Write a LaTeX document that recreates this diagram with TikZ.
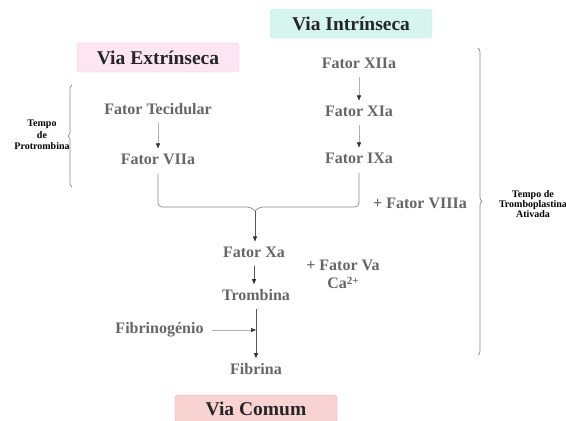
\documentclass[tikz,border=0pt]{standalone}
\usepackage{fontspec}
\setmainfont{Liberation Serif}
\newfontfamily\serifmain{Liberation Serif}
\usetikzlibrary{decorations.pathreplacing,arrows.meta}
\definecolor{facgray}{HTML}{666666}
\definecolor{viadark}{HTML}{262626}
\definecolor{tealbg}{HTML}{D6F5EF}
\definecolor{tealborder}{HTML}{C4EDE5}
\definecolor{pinkbg}{HTML}{FDE6F1}
\definecolor{pinkborder}{HTML}{F3C6DC}
\definecolor{redbg}{HTML}{F9D2D2}
\definecolor{redborder}{HTML}{E8A9A9}
\definecolor{lightline}{HTML}{B0B0B0}
\definecolor{darkline}{HTML}{555555}
\definecolor{bracegray}{HTML}{8A8A8A}
\definecolor{tipcol}{HTML}{333333}
\tikzset{
  fac/.style={font=\serifmain\bfseries\fontsize{16}{19}\selectfont, text=facgray, inner sep=4pt},
  via/.style={font=\serifmain\bfseries\fontsize{19.5}{23}\selectfont, text=viadark, rounded corners=3pt, minimum width=162pt, minimum height=29pt, inner sep=0pt},
  lbl/.style={font=\serifmain\bfseries\fontsize{10}{11.5}\selectfont, align=center, text=black},
  lightarrow/.style={draw=lightline, line width=0.5pt, -{Triangle[length=5pt,width=4pt,color=tipcol]}, shorten <=4pt, shorten >=1pt},
  darkarrow/.style={draw=darkline, line width=0.7pt, -{Triangle[length=5pt,width=4pt,color=tipcol]}, shorten <=4pt, shorten >=1pt},
  bracket/.style={draw=bracegray, line width=0.7pt},
  curly/.style={draw=bracegray, line width=0.7pt, decorate, decoration={brace, amplitude=4pt}}
}
\begin{document}
\begin{tikzpicture}[x=1pt,y=-1pt]
\useasboundingbox[fill=white] (0,0) rectangle (566,421);
% titles
\node[via, fill=tealbg, draw=tealborder] (vi) at (351,23.5) {Via Intrínseca};
\node[via, fill=pinkbg, draw=pinkborder] (ve) at (158,57.5) {Via Extrínseca};
\node[via, fill=redbg, draw=redborder, minimum height=28pt] (vc) at (256,409) {Via Comum};
% factors
\node[fac] (tec) at (158,109) {Fator Tecidular};
\node[fac] (viia) at (158,159) {Fator VIIa};
\node[fac] (xiia) at (359,63) {Fator XIIa};
\node[fac] (xia) at (359,111) {Fator XIa};
\node[fac] (ixa) at (359,158) {Fator IXa};
\node[fac] (viiia) at (420,203) {+ Fator VIIIa};
\node[fac] (xa) at (254,252) {Fator Xa};
\node[fac, align=center] (va) at (343,274) {+ Fator Va\\[-1pt]Ca\raisebox{3.5pt}{\fontsize{11}{12}\selectfont 2+}};
\node[fac] (tromb) at (256,295) {Trombina};
\node[fac] (fibgen) at (159.5,330) {Fibrinogénio};
\node[fac] (fib) at (256,369) {Fibrina};
% side labels
\node[lbl] (tp) at (42,135) {Tempo\\de\\Protrombina};
\node[lbl, font=\serifmain\bfseries\fontsize{10}{9.8}\selectfont] (ttpa) at (533,204) {Tempo de\\Tromboplastina\\Ativada};
% arrows
\draw[lightarrow] (tec) -- (viia);
\draw[lightarrow] (xiia) -- (xia);
\draw[lightarrow] (xia) -- (ixa);
% merging bracket
\coordinate (tip) at (255,211);
\draw[bracket, rounded corners=4pt] ([yshift=-5pt]viia.south) -- (viia.south |- 0,207) -- (251,207) -- (tip);
\draw[bracket, rounded corners=4pt] (tip) -- (259,207) -- (ixa.south |- 0,207) -- ([yshift=-5pt]ixa.south);
\draw[darkarrow, shorten <=0pt] (tip) -- (tip |- xa.north);
\draw[darkarrow] (xa) -- (xa.south |- tromb.north);
\draw[darkarrow] (tromb.south) -- (tromb.south |- fib.north);
\coordinate (join) at (fibgen.east -| tromb.south);
\draw[lightarrow, shorten >=0pt] (fibgen.east) -- (join);
% braces
\coordinate (lbB) at (72,187);
\coordinate (lbT) at (72,85);
\draw[curly] (lbB) -- (lbT);
\coordinate (rbT) at (478,48);
\coordinate (rbB) at (478,355);
\draw[curly] (rbT) -- (rbB);
\end{tikzpicture}
\end{document}
